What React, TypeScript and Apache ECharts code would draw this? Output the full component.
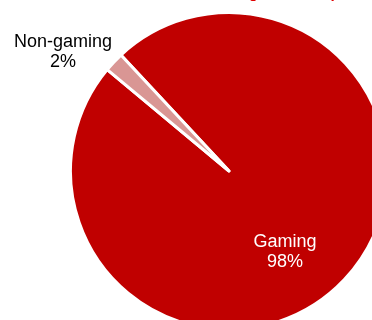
import React, { useEffect, useRef } from "react";
import * as echarts from "echarts";

const categories = ["Gaming", "Non-gaming"];
const values = [98, 2];
const sliceColors = ["#c00000", "#d99694"];
const labelColors = ["#ffffff", "#000000"];
const titleText = "Share of Gaming Revenue (FY2021)";

const FONT = '"Liberation Sans", Arial, sans-serif';

export default function App() {
  const ref = useRef<HTMLDivElement>(null);
  useEffect(() => {
    if (!ref.current) return;
    const chart = echarts.init(ref.current, null, { renderer: "svg" });
    chart.setOption({
      animation: false,
      graphic: [
        {
          type: "text",
          x: 138,
          y: -7.5,
          style: {
            text: titleText,
            font: `bold 15px ${FONT}`,
            fill: "#e00000",
            textAlign: "left",
            textVerticalAlign: "middle",
          },
        },
      ],
      series: [
        {
          type: "pie",
          center: [229, 171],
          radius: 158.5,
          startAngle: 133,
          clockwise: true,
          avoidLabelOverlap: false,
          emphasis: { disabled: true },
          itemStyle: { borderColor: "#ffffff", borderWidth: 3 },
          labelLine: { show: false },
          label: {
            show: true,
            fontFamily: FONT,
            fontSize: 18,
            lineHeight: 20,
            formatter: (p: any) => `${p.name}\n${p.value}%`,
          },
          labelLayout: (p: any) =>
            p.dataIndex === 0
              ? { x: 285, y: 250.5, align: "center", verticalAlign: "middle" }
              : { x: 63, y: 50.5, align: "center", verticalAlign: "middle" },
          data: categories.map((name, i) => ({
            name,
            value: values[i],
            itemStyle: { color: sliceColors[i] },
            label: {
              position: i === 0 ? "inside" : "outside",
              color: labelColors[i],
            },
          })),
        },
      ],
    });
    return () => chart.dispose();
  }, []);
  return (
    <div
      ref={ref}
      style={{ position: "fixed", left: 0, top: 0, width: 372, height: 320 }}
    />
  );
}
